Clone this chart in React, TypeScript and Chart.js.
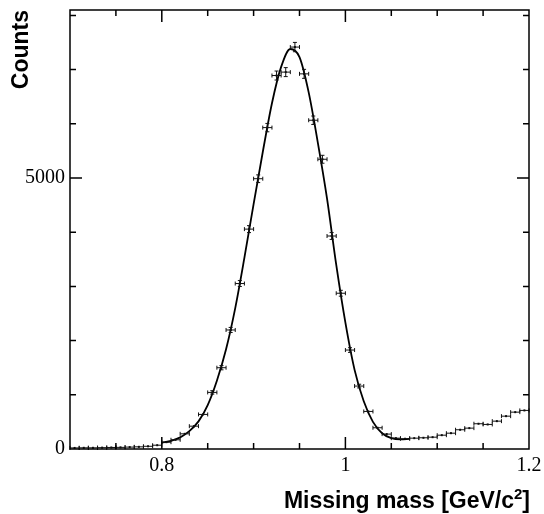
import React, { useEffect, useRef } from "react";
import { Chart, registerables } from "chart.js";

Chart.register(...registerables);

// Histogram bins (centres, GeV/c^2)
const binCenters = [
  0.705, 0.715, 0.725, 0.735, 0.745, 0.755, 0.765, 0.775, 0.785, 0.795,
  0.805, 0.815, 0.825, 0.835, 0.845, 0.855, 0.865, 0.875, 0.885, 0.895,
  0.905, 0.915, 0.925, 0.935, 0.945, 0.955, 0.965, 0.975, 0.985, 0.995,
  1.005, 1.015, 1.025, 1.035, 1.045, 1.055, 1.065, 1.075, 1.085, 1.095,
  1.105, 1.115, 1.125, 1.135, 1.145, 1.155, 1.165, 1.175, 1.185, 1.195,
];
const counts = [
  20, 22, 22, 25, 28, 30, 35, 40, 50, 70,
  126, 170, 280, 421, 638, 1044, 1500, 2196, 3053, 4057,
  4987, 5930, 6891, 6954, 7416, 6922, 6066, 5346, 3930, 2874,
  1826, 1161, 693, 392, 275, 200, 189, 200, 207, 218,
  255, 292, 355, 385, 466, 453, 514, 606, 680, 712,
];
const countErrors = [
  4, 5, 5, 5, 5, 5, 6, 6, 7, 8,
  11, 13, 17, 21, 25, 32, 39, 47, 55, 64,
  71, 77, 83, 83, 86, 83, 78, 73, 63, 54,
  43, 34, 26, 20, 17, 14, 14, 14, 14, 15,
  16, 17, 19, 20, 22, 21, 23, 25, 26, 27,
];
const binHalfWidth = 0.005;

// Fit curve
const fitX = [
  0.8, 0.81, 0.82, 0.83, 0.84, 0.85, 0.86, 0.87, 0.88, 0.89,
  0.9, 0.91, 0.92, 0.93, 0.94, 0.95, 0.96, 0.97, 0.98, 0.99,
  1.0, 1.01, 1.02, 1.03, 1.04, 1.05, 1.06, 1.07,
];
const fitY = [
  115, 150, 215, 330, 510, 810, 1260, 1840, 2600, 3530,
  4520, 5480, 6380, 7050, 7380, 7230, 6580, 5650, 4620, 3400,
  2330, 1460, 880, 500, 290, 200, 178, 185,
];

const xMin = 0.7;
const xMax = 1.2;
const yMin = 0;
const yMax = 8100;
const xLabelTicks = [0.8, 1.0, 1.2];
const yLabelTicks = [0, 5000];
const xMinorTicks = [0.75, 0.85, 0.9, 0.95, 1.05, 1.1, 1.15];
const xMajorTicks = [0.8, 1.0];
const yMinorTicks = [1000, 2000, 3000, 4000, 6000, 7000, 8000];
const yMajorTicks = [5000];
const xTitleMain = "Missing mass [GeV/c";
const xTitleSup = "2";
const xTitleEnd = "]";
const yTitle = "Counts";

const titleFont = 'bold 23px "Liberation Sans", Arial, sans-serif';
const supFont = 'bold 15px "Liberation Sans", Arial, sans-serif';

const decorPlugin = {
  id: "decor",
  afterDatasetsDraw(chart: any) {
    const { ctx, scales } = chart;
    const xs = scales.x;
    const ys = scales.y;
    ctx.save();
    ctx.strokeStyle = "#111";
    ctx.lineWidth = 1;
    ctx.beginPath();
    binCenters.forEach((c, i) => {
      const px0 = xs.getPixelForValue(c - binHalfWidth);
      const px1 = xs.getPixelForValue(c + binHalfWidth);
      const pc = xs.getPixelForValue(c);
      const py = ys.getPixelForValue(counts[i]);
      const pt = ys.getPixelForValue(counts[i] + countErrors[i]);
      const pb = ys.getPixelForValue(counts[i] - countErrors[i]);
      ctx.moveTo(px0, py);
      ctx.lineTo(px1, py);
      ctx.moveTo(px0, py - 2);
      ctx.lineTo(px0, py + 2);
      ctx.moveTo(px1, py - 2);
      ctx.lineTo(px1, py + 2);
      if (py - pt > 1.5) {
        ctx.moveTo(pc, pt);
        ctx.lineTo(pc, pb);
        ctx.moveTo(pc - 2, pt);
        ctx.lineTo(pc + 2, pt);
        ctx.moveTo(pc - 2, pb);
        ctx.lineTo(pc + 2, pb);
      }
    });
    ctx.stroke();
    ctx.restore();
  },
  afterDraw(chart: any) {
    const { ctx, chartArea: a, scales } = chart;
    const xs = scales.x;
    const ys = scales.y;
    ctx.save();
    ctx.strokeStyle = "#000";
    ctx.lineWidth = 1.5;
    ctx.strokeRect(a.left, a.top, a.right - a.left, a.bottom - a.top);
    ctx.beginPath();
    const minorLen = 6;
    const majorLen = 12;
    const xt = (v: number, len: number) => {
      const p = xs.getPixelForValue(v);
      ctx.moveTo(p, a.bottom);
      ctx.lineTo(p, a.bottom - len);
      ctx.moveTo(p, a.top);
      ctx.lineTo(p, a.top + len);
    };
    const yt = (v: number, len: number) => {
      const p = ys.getPixelForValue(v);
      ctx.moveTo(a.left, p);
      ctx.lineTo(a.left + len, p);
      ctx.moveTo(a.right, p);
      ctx.lineTo(a.right - len, p);
    };
    xMinorTicks.forEach((v) => xt(v, minorLen));
    xMajorTicks.forEach((v) => xt(v, majorLen));
    yMinorTicks.forEach((v) => yt(v, minorLen));
    yMajorTicks.forEach((v) => yt(v, majorLen));
    ctx.stroke();

    // titles
    ctx.fillStyle = "#000";
    ctx.textBaseline = "alphabetic";
    ctx.textAlign = "left";
    ctx.font = titleFont;
    const w1 = ctx.measureText(xTitleMain).width;
    const w3 = ctx.measureText(xTitleEnd).width;
    ctx.font = supFont;
    const w2 = ctx.measureText(xTitleSup).width;
    const right = 530;
    const base = 508;
    const start = right - (w1 + w2 + w3);
    ctx.font = titleFont;
    ctx.fillText(xTitleMain, start, base);
    ctx.fillText(xTitleEnd, start + w1 + w2, base);
    ctx.font = supFont;
    ctx.fillText(xTitleSup, start + w1, base - 9);

    ctx.font = titleFont;
    ctx.translate(27.5, 10);
    ctx.rotate(-Math.PI / 2);
    ctx.textAlign = "right";
    ctx.fillText(yTitle, 0, 0);
    ctx.restore();
  },
};

export default function App() {
  const ref = useRef<HTMLCanvasElement | null>(null);
  useEffect(() => {
    if (!ref.current) return;
    const chart = new Chart(ref.current, {
      type: "scatter",
      data: {
        datasets: [
          {
            type: "line",
            data: fitX.map((x, i) => ({ x, y: fitY[i] })),
            borderColor: "#000",
            borderWidth: 1.8,
            pointRadius: 0,
            cubicInterpolationMode: "monotone",
            fill: false,
          } as any,
          {
            type: "scatter",
            data: binCenters.map((x, i) => ({ x, y: counts[i] })),
            pointRadius: 1.4,
            pointStyle: "rect",
            backgroundColor: "#000",
            borderColor: "#000",
            borderWidth: 0,
          } as any,
        ],
      },
      options: {
        animation: false,
        responsive: false,
        layout: { padding: { left: 0, right: 15, top: 10, bottom: 0 } },
        plugins: {
          legend: { display: false },
          tooltip: { enabled: false },
        },
        scales: {
          x: {
            type: "linear",
            min: xMin,
            max: xMax,
            grid: { display: false, drawTicks: false },
            border: { display: false },
            afterFit: (s: any) => {
              s.height = 65;
              s.paddingLeft = 0;
              s.paddingRight = 0;
            },
            afterBuildTicks: (s: any) => {
              s.ticks = xLabelTicks.map((v) => ({ value: v }));
            },
            ticks: {
              autoSkip: false,
              maxRotation: 0,
              padding: 5,
              color: "#000",
              font: { family: '"Liberation Serif", "Times New Roman", serif', size: 20 },
              callback: (v: any) => String(Number(v)),
            },
          },
          y: {
            type: "linear",
            min: yMin,
            max: yMax,
            grid: { display: false, drawTicks: false },
            border: { display: false },
            afterFit: (s: any) => {
              s.width = 70;
              s.paddingTop = 0;
              s.paddingBottom = 0;
            },
            afterBuildTicks: (s: any) => {
              s.ticks = yLabelTicks.map((v) => ({ value: v }));
            },
            ticks: {
              autoSkip: false,
              padding: 5,
              color: "#000",
              font: { family: '"Liberation Serif", "Times New Roman", serif', size: 20 },
              callback: (v: any) => String(Number(v)),
            },
          },
        },
      } as any,
      plugins: [decorPlugin],
    });
    return () => chart.destroy();
  }, []);
  return (
    <div style={{ position: "fixed", left: 0, top: 0, width: 544, height: 514, background: "#fff" }}>
      <canvas ref={ref} width={544} height={514} style={{ display: "block" }} />
    </div>
  );
}
